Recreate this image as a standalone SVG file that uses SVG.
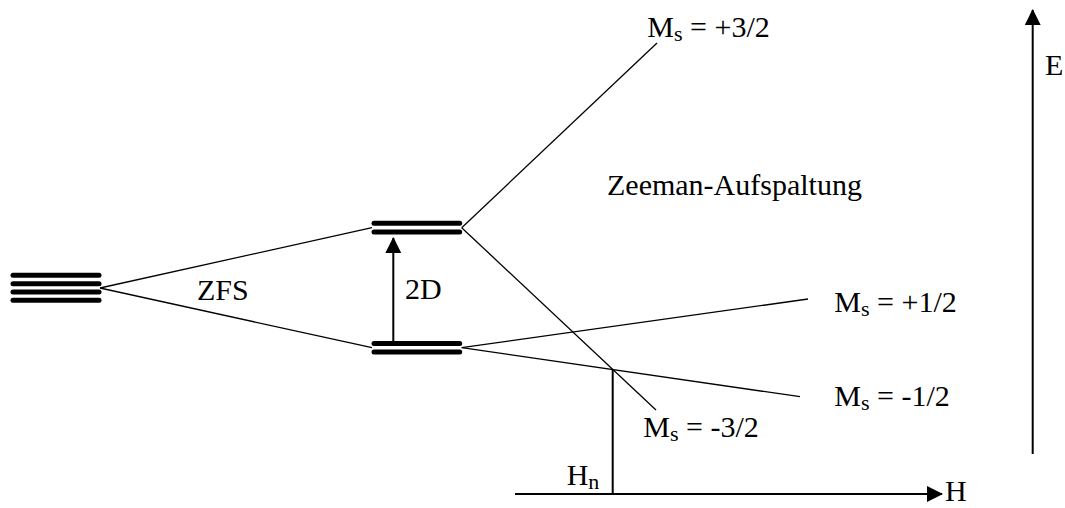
<svg xmlns="http://www.w3.org/2000/svg" width="1065" height="508" viewBox="0 0 1065 508">
<defs>
<style>
.lvl{stroke:#000;stroke-width:5;stroke-linecap:round;fill:none}
.thin{stroke:#000;stroke-width:1.3;fill:none}
.axis{stroke:#000;stroke-width:2;fill:none}
text{font-family:"Liberation Serif","Times New Roman",serif;font-size:30px;fill:#000}
.sub{font-size:22px}
</style>
<marker id="ah" viewBox="0 0 16 16" refX="15" refY="8" markerWidth="16" markerHeight="16" markerUnits="userSpaceOnUse" orient="auto">
<path d="M0,0 L16,8 L0,16 Z" fill="#000"/>
</marker>
</defs>
<rect width="1065" height="508" fill="#fff"/>
<g id="connectors">
<line class="thin" x1="100" y1="288" x2="372" y2="227.7"/>
<line class="thin" x1="100" y1="288" x2="372" y2="347.7"/>
<line class="thin" x1="461.7" y1="227.7" x2="657" y2="43"/>
<line class="thin" x1="461.7" y1="227.7" x2="656" y2="410"/>
<line class="thin" x1="461.7" y1="347.7" x2="808" y2="299"/>
<line class="thin" x1="461.7" y1="347.7" x2="800" y2="396.7"/>
<line class="axis" x1="393.3" y1="344" x2="393.3" y2="238" marker-end="url(#ah)"/>
<line class="axis" x1="612.7" y1="369.3" x2="612.7" y2="494"/>
<line class="axis" x1="515" y1="494" x2="942" y2="494" marker-end="url(#ah)"/>
<line class="axis" x1="1032.7" y1="454" x2="1032.7" y2="10" marker-end="url(#ah)"/>
</g>
<g id="level-left">
<line class="lvl" x1="13" y1="275.3" x2="99" y2="275.3"/>
<line class="lvl" x1="13" y1="283.7" x2="99" y2="283.7"/>
<line class="lvl" x1="13" y1="292" x2="99" y2="292"/>
<line class="lvl" x1="13" y1="300.3" x2="99" y2="300.3"/>
</g>
<g id="level-upper">
<line class="lvl" x1="374" y1="223.3" x2="459.7" y2="223.3"/>
<line class="lvl" x1="374" y1="232" x2="459.7" y2="232"/>
</g>
<g id="level-lower">
<line class="lvl" x1="374" y1="343.5" x2="459.7" y2="343.5"/>
<line class="lvl" x1="374" y1="352" x2="459.7" y2="352"/>
</g>
<g id="labels">
<text x="197" y="300">ZFS</text>
<text x="405" y="299.3">2D</text>
<text x="607" y="195">Zeeman-Aufspaltung</text>
<text x="647.3" y="36.7">M<tspan class="sub" dy="4">s</tspan><tspan dy="-4"> = +3/2</tspan></text>
<text x="834.3" y="312.3">M<tspan class="sub" dy="4">s</tspan><tspan dy="-4"> = +1/2</tspan></text>
<text x="834.3" y="406">M<tspan class="sub" dy="4">s</tspan><tspan dy="-4"> = -1/2</tspan></text>
<text x="643.3" y="436.7">M<tspan class="sub" dy="4">s</tspan><tspan dy="-4"> = -3/2</tspan></text>
<text x="566.7" y="485">H<tspan class="sub" dy="4">n</tspan></text>
<text x="945" y="501">H</text>
<text x="1045" y="75">E</text>
</g>
</svg>
